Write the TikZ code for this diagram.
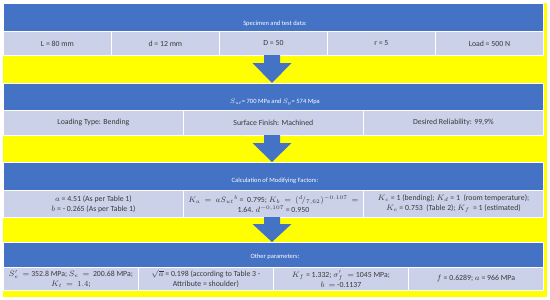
\RequirePackage{fix-cm}
\documentclass[tikz,border=0pt]{standalone}
\usepackage{fontspec}
\setmainfont{Carlito}
\definecolor{hdr}{HTML}{4472C4}
\definecolor{cellbg}{HTML}{CAD1E8}
\definecolor{txt}{HTML}{3A3A3A}
\definecolor{yel}{HTML}{FFFF00}
\tikzset{
  hdrbox/.style={fill=hdr, draw=white, line width=0.8pt, minimum width=540pt, inner sep=0pt, anchor=north west},
  cellbox/.style={fill=cellbg, draw=white, line width=0.8pt, inner sep=0pt, anchor=north west, text=txt, font=\fontsize{7.8}{10}\selectfont, align=center},
  hdrtext/.style={text=white, font=\fontsize{6.5}{8}\selectfont, inner sep=0pt},
  blockarrow/.style={fill=hdr, draw=none}
}
\begin{document}
\begin{tikzpicture}[x=1pt,y=-1pt]
\useasboundingbox (0,0) rectangle (550,300);
\fill[yel] (3,3) rectangle (547,297);
% Section 1
\node[hdrbox, minimum height=28pt] (h1) at (3,3) {};
\node[hdrtext] (h1t) at (275,23.5) {Specimen and test data:};
\node[cellbox, minimum width=108pt, minimum height=24pt] (c11) at (3,31) {L = 80 mm};
\node[cellbox, minimum width=108pt, minimum height=24pt] (c12) at (111,31) {d = 12 mm};
\node[cellbox, minimum width=108pt, minimum height=24pt] (c13) at (219,31) {D = 50};
\node[cellbox, minimum width=108pt, minimum height=24pt] (c14) at (327,31) {r = 5};
\node[cellbox, minimum width=108pt, minimum height=24pt] (c15) at (435,31) {Load = 500 N};
% Section 2
\node[hdrbox, minimum height=27pt] (h2) at (3,83) {};
\node[hdrtext] (h2t) at (275,102) {$S_{ut}$= 700 MPa and $S_y$= 574 Mpa};
\node[cellbox, minimum width=180pt, minimum height=25pt] (c21) at (3,110) {Loading Type: Bending};
\node[cellbox, minimum width=180pt, minimum height=25pt] (c22) at (183,110) {Surface Finish: Machined};
\node[cellbox, minimum width=180pt, minimum height=25pt] (c23) at (363,110) {Desired Reliability: 99,9\%};
% Section 3
\node[hdrbox, minimum height=28pt] (h3) at (3,162) {};
\node[hdrtext] (h3t) at (275,181) {Calculation of Modifying Factors:};
\node[cellbox, minimum width=180pt, minimum height=27pt] (c31) at (3,190) {$a$ = 4.51 (As per Table 1)\\$b$ = - 0.265 (As per Table 1)};
\node[cellbox, minimum width=180pt, minimum height=27pt] (c32) at (183,190) {$K_a\,=\,aS_{ut}{}^{b}$\ = \ 0.795; $K_b\,=\,({}^{d}\!/_{7,62})^{-0.107}\,=$\\1.64. $d^{-0,107}$ = 0.950};
\node[cellbox, minimum width=180pt, minimum height=27pt] (c33) at (363,190) {$K_c$ = 1 (bending); $K_d$ = 1\ \ (room temperature);\\$K_e$ = 0.753\ \ (Table 2); $K_f\,$ = 1 (estimated)};
% Section 4
\node[hdrbox, minimum height=25pt] (h4) at (3,242) {};
\node[hdrtext] (h4t) at (275,257) {Other parameters:};
\node[cellbox, minimum width=135pt, minimum height=23pt] (c41) at (3,267) {$S'_e\,=$\ 352.8 MPa; $S_e\,=$\ \ 200.68 MPa;\\$K_t\,=\,1.4$;};
\node[cellbox, minimum width=135pt, minimum height=23pt] (c42) at (138,267) {$\sqrt{a}$ = 0.198 (according to Table 3 -\\Attribute = shoulder)};
\node[cellbox, minimum width=135pt, minimum height=23pt] (c43) at (273,267) {$K_f$ = 1.332;\ $\sigma'_f\,=$ 1045 MPa;\\$b\,=$ -0.1137};
\node[cellbox, minimum width=135pt, minimum height=23pt] (c44) at (408,267) {$f$ = 0.6289; $a$ = 966 MPa};
% Arrows
\fill[blockarrow] (264,55) -- (280,55) -- (280,63) -- (291.5,63) -- (272,83) -- (252.5,63) -- (264,63) -- cycle;
\fill[blockarrow] (264,135) -- (280,135) -- (280,143) -- (291.5,143) -- (272,162) -- (252.5,143) -- (264,143) -- cycle;
\fill[blockarrow] (264,217) -- (280,217) -- (280,224) -- (291.5,224) -- (272,242) -- (252.5,224) -- (264,224) -- cycle;
\end{tikzpicture}
\end{document}
